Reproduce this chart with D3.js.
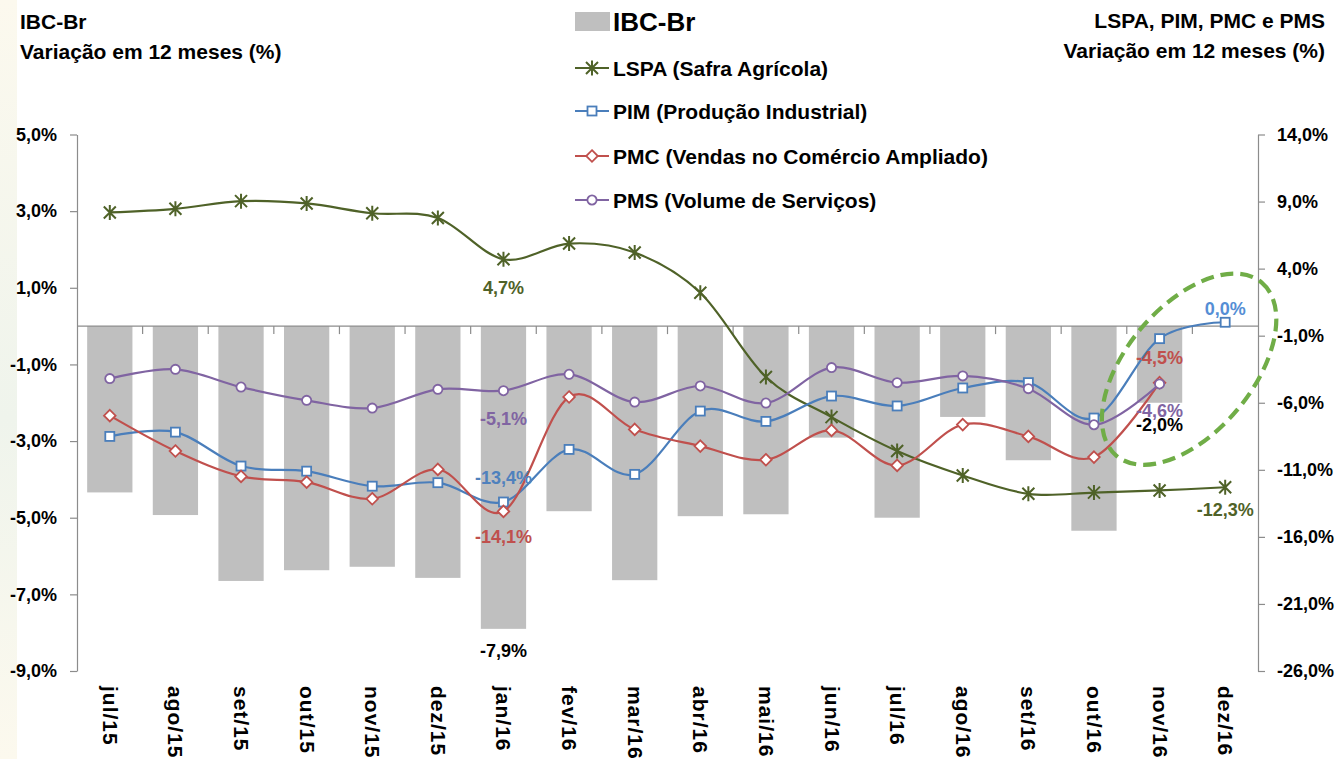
<!DOCTYPE html>
<html><head><meta charset="utf-8">
<script src="https://cdn.jsdelivr.net/npm/d3@7"></script>
<style>html,body{margin:0;padding:0;background:#fff;overflow:hidden}</style>
</head><body>
<svg id="c" width="1338" height="759"></svg>
<script>
// ---------------- data ----------------
const categories = ["jul/15","ago/15","set/15","out/15","nov/15","dez/15","jan/16","fev/16","mar/16","abr/16","mai/16","jun/16","jul/16","ago/16","set/16","out/16","nov/16","dez/16"];
const ibcBr = [-4.34,-4.93,-6.65,-6.37,-6.28,-6.57,-7.9,-4.83,-6.63,-4.96,-4.91,-2.91,-5.0,-2.37,-3.5,-5.34,-2.0,null];
const lspa  = [8.19,8.46,9.03,8.86,8.13,7.78,4.7,5.87,5.2,2.2,-4.08,-7.07,-9.6,-11.42,-12.79,-12.7,-12.54,-12.3];
const pim   = [-8.51,-8.19,-10.72,-11.1,-12.22,-11.96,-13.4,-9.48,-11.34,-6.62,-7.39,-5.5,-6.24,-4.9,-4.5,-7.14,-1.22,0.0];
const pmc   = [-6.96,-9.6,-11.49,-11.92,-13.16,-10.97,-14.1,-5.57,-7.99,-9.23,-10.25,-8.06,-10.67,-7.63,-8.51,-10.05,-4.5,null];
const pms   = [-4.2,-3.51,-4.83,-5.82,-6.4,-5.0,-5.1,-3.88,-5.95,-4.75,-6.02,-3.38,-4.5,-4.0,-4.95,-7.64,-4.6,null];
const leftTicks  = [5,3,1,-1,-3,-5,-7,-9];
const rightTicks = [14,9,4,-1,-6,-11,-16,-21,-26];
const seriesNames = ["IBC-Br","LSPA (Safra Agrícola)","PIM (Produção Industrial)","PMC (Vendas no Comércio Ampliado)","PMS (Volume de Serviços)"];

// ---------------- setup ----------------
const FONT = "'Liberation Sans', Arial, sans-serif";
const svg = d3.select("#c").style("font-family", FONT);
const M = {left:77, right:1258, top:134.5, bottom:671};

// faint background strip at far left
const defs = svg.append("defs");
const g0 = defs.append("linearGradient").attr("id","strip").attr("x1",0).attr("y1",0).attr("x2",0).attr("y2",1);
g0.append("stop").attr("offset","0%").attr("stop-color","#fcf9ee");
g0.append("stop").attr("offset","55%").attr("stop-color","#eff4ec");
g0.append("stop").attr("offset","100%").attr("stop-color","#fcf9ee");
svg.append("rect").attr("x",0).attr("y",0).attr("width",17).attr("height",759).attr("fill","url(#strip)");

const x = d3.scaleBand().domain(categories).range([M.left, M.right]).paddingInner(0.31).paddingOuter(0.155);
const cx = c => x(c) + x.bandwidth()/2;
const yL = d3.scaleLinear().domain([-9,5]).range([M.bottom, M.top]);
const yR = d3.scaleLinear().domain([-26,14]).range([M.bottom, M.top]);
const pct = v => v.toFixed(1).replace(".", ",") + "%";

const C = {bar:"#bfbfbf", lspa:"#4f6228", pim:"#4a7ebb", pmc:"#c0504d", pms:"#8064a2", axis:"#8c8c8c"};

// ---------------- bars ----------------
svg.append("g").selectAll("rect").data(categories.map((c,i)=>({c, v:ibcBr[i]})).filter(d=>d.v!=null))
  .join("rect")
  .attr("x", d => x(d.c)).attr("width", x.bandwidth())
  .attr("y", d => yL(Math.max(0,d.v))).attr("height", d => Math.abs(yL(d.v)-yL(0)))
  .attr("fill", C.bar);

// ---------------- axes ----------------
const axL = svg.append("g").attr("transform",`translate(${M.left},0)`)
  .call(d3.axisLeft(yL).tickValues(leftTicks).tickSize(7).tickSizeOuter(0).tickPadding(13).tickFormat(pct));
const axR = svg.append("g").attr("transform",`translate(${M.right},0)`)
  .call(d3.axisRight(yR).tickValues(rightTicks).tickSize(7).tickSizeOuter(0).tickPadding(12).tickFormat(pct));
[axL, axR].forEach(a => {
  a.select(".domain").attr("stroke", C.axis).attr("stroke-width",1.2);
  a.selectAll(".tick line").attr("stroke", C.axis).attr("stroke-width",1.2);
  a.selectAll(".tick text").attr("fill","#000").style("font-size","18px").style("font-weight","bold").style("font-family",FONT);
});

// category axis on the zero line
const y0 = yL(0);
const axX = svg.append("g");
axX.append("line").attr("x1",M.left).attr("x2",M.right).attr("y1",y0).attr("y2",y0).attr("stroke",C.axis).attr("stroke-width",1.2);
axX.selectAll("line.t").data(categories.slice(0,-1)).join("line").attr("class","t")
  .attr("x1", c => cx(c) + x.step()/2).attr("x2", c => cx(c) + x.step()/2)
  .attr("y1", y0).attr("y2", y0 + 8).attr("stroke", C.axis).attr("stroke-width",1.2);
svg.append("g").selectAll("text").data(categories).join("text")
  .attr("transform", c => `translate(${cx(c) - 7},686) rotate(90)`)
  .attr("text-anchor","start")
  .style("font-size","21px").style("font-weight","bold").style("letter-spacing","1px")
  .attr("fill","#000").text(c => c);

// ---------------- lines ----------------
const symbols = {
  star: g => g.append("path").attr("d","M-6,-6L6,6M-6,6L6,-6M0,-7.5L0,7.5").attr("fill","none"),
  square: g => g.append("rect").attr("x",-4.5).attr("y",-4.5).attr("width",9).attr("height",9).attr("fill","#fff"),
  diamond: g => g.append("path").attr("d","M0,-5.8L5.8,0L0,5.8L-5.8,0Z").attr("fill","#fff"),
  circle: g => g.append("circle").attr("r",4.6).attr("fill","#fff")
};
function drawSeries(values, color, sym) {
  const pts = categories.map((c,i)=>({c, v:values[i]})).filter(d=>d.v!=null);
  const line = d3.line().x(d=>cx(d.c)).y(d=>yR(d.v)).curve(d3.curveCardinal.tension(0));
  svg.append("path").datum(pts).attr("d", line).attr("fill","none").attr("stroke",color).attr("stroke-width",2.2);
  const mg = svg.append("g");
  pts.forEach(d => {
    const g = mg.append("g").attr("transform",`translate(${cx(d.c)},${yR(d.v)})`).attr("stroke",color).attr("stroke-width", sym==="star"?2:1.8);
    symbols[sym](g);
  });
}
drawSeries(lspa, C.lspa, "star");
drawSeries(pim, C.pim, "square");
drawSeries(pmc, C.pmc, "diamond");
drawSeries(pms, C.pms, "circle");

// ---------------- data labels ----------------
function label(values, c, scale, color, dy) {
  const v = values[categories.indexOf(c)];
  svg.append("text")
    .attr("x", cx(c)).attr("y", scale(v) + dy)
    .attr("text-anchor","middle").attr("dominant-baseline","central")
    .style("font-size","18px").style("font-weight","bold").attr("fill",color)
    .text(pct(v));
}
label(ibcBr, "jan/16", yL, "#000", 22);
label(ibcBr, "nov/16", yL, "#000", 22);
label(lspa, "jan/16", yR, C.lspa, 29);
label(lspa, "dez/16", yR, C.lspa, 23);
label(pim, "jan/16", yR, "#4f81bd", -24);
label(pim, "dez/16", yR, "#558ed5", -13);
label(pmc, "jan/16", yR, C.pmc, 26);
label(pmc, "nov/16", yR, C.pmc, -25);
label(pms, "jan/16", yR, C.pms, 28);
label(pms, "nov/16", yR, C.pms, 27);

// ---------------- highlight ellipse ----------------
svg.append("ellipse")
  .attr("transform", `translate(${cx("nov/16") + x.step()*0.45},${yR(-3.5)}) rotate(-50)`)
  .attr("rx",113).attr("ry",63)
  .attr("fill","none").attr("stroke","#70ad47").attr("stroke-width",4.2).attr("stroke-dasharray","13,7");

// ---------------- titles ----------------
const tl = svg.append("text").style("font-size","21px").style("font-weight","bold").attr("fill","#000");
tl.append("tspan").attr("x",20).attr("y",29).text("IBC-Br");
tl.append("tspan").attr("x",20).attr("y",59).text("Variação em 12 meses (%)");
const tr = svg.append("text").attr("text-anchor","end").style("font-size","21px").style("font-weight","bold").attr("fill","#000");
tr.append("tspan").attr("x",1325).attr("y",28).text("LSPA, PIM, PMC e PMS");
tr.append("tspan").attr("x",1325).attr("y",58).text("Variação em 12 meses (%)");

// ---------------- legend ----------------
const lg = svg.append("g");
lg.append("rect").attr("x",575).attr("y",12).attr("width",35).attr("height",19).attr("fill",C.bar);
lg.append("text").attr("x",613).attr("y",31).style("font-size","26px").style("font-weight","bold").text(seriesNames[0]);
const legItems = [
  {name:seriesNames[1], color:C.lspa, sym:"star", y:68},
  {name:seriesNames[2], color:C.pim, sym:"square", y:111},
  {name:seriesNames[3], color:C.pmc, sym:"diamond", y:156},
  {name:seriesNames[4], color:C.pms, sym:"circle", y:200}
];
legItems.forEach(it => {
  lg.append("line").attr("x1",575).attr("x2",609).attr("y1",it.y).attr("y2",it.y).attr("stroke",it.color).attr("stroke-width",2);
  const g = lg.append("g").attr("transform",`translate(592,${it.y})`).attr("stroke",it.color).attr("stroke-width",it.sym==="star"?2:1.8);
  symbols[it.sym](g);
  lg.append("text").attr("x",613).attr("y",it.y+7.5).style("font-size","21px").style("font-weight","bold").attr("fill","#000").text(it.name);
});
</script>
</body></html>
